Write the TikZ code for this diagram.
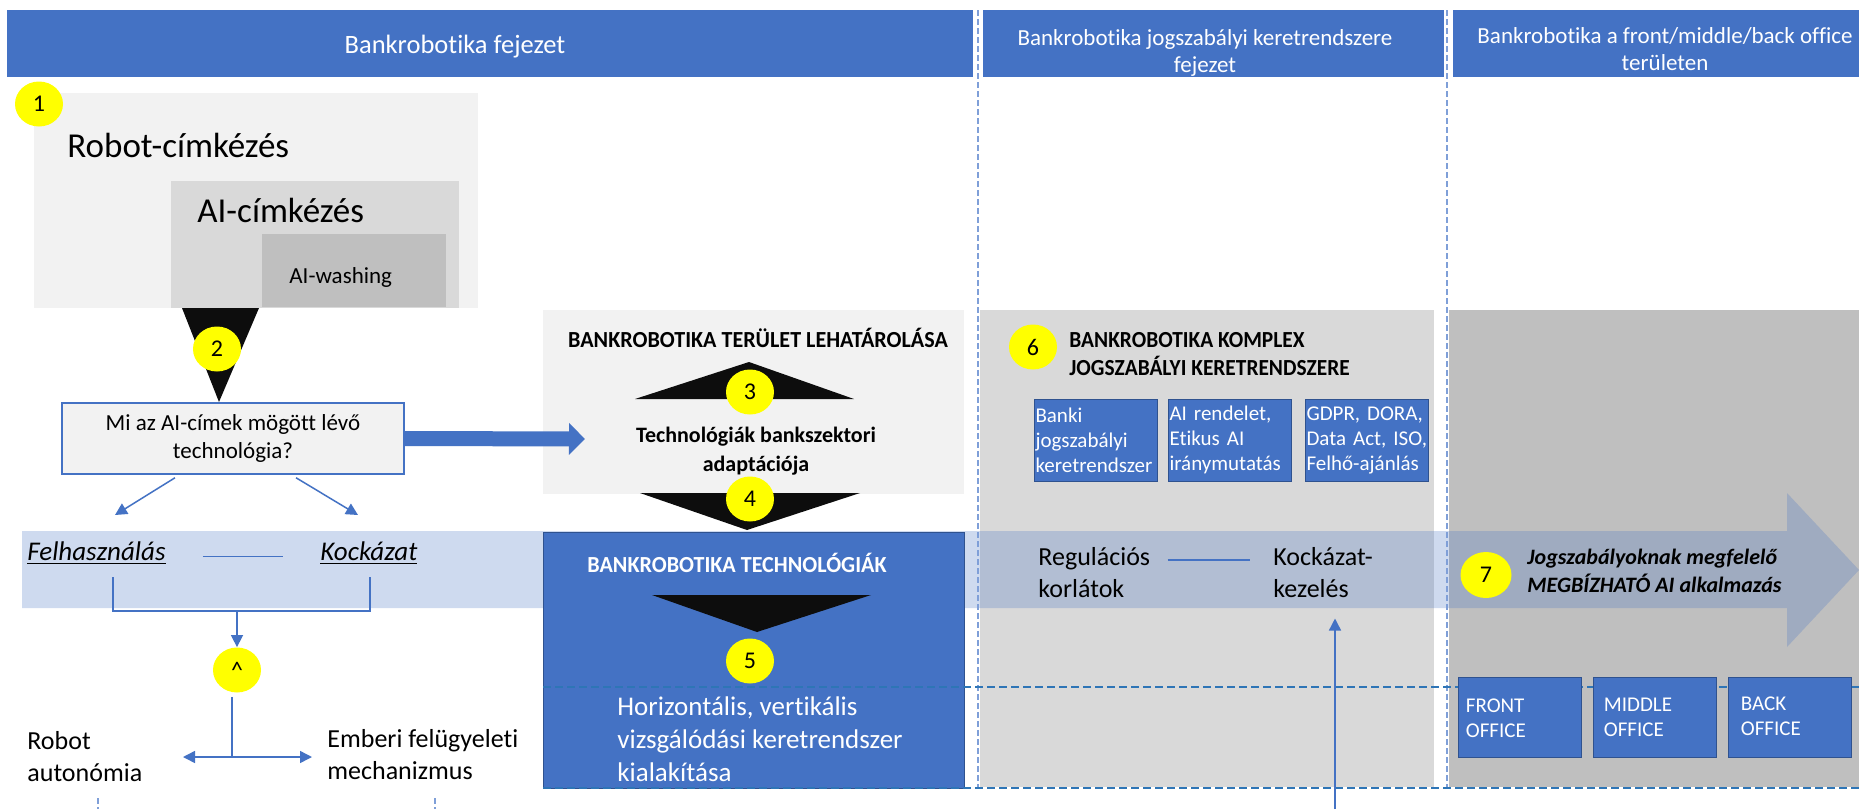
\documentclass[tikz,border=0pt]{standalone}
\usepackage{fontspec}
\setmainfont{Carlito}[Ligatures=NoCommon]
\newfontfamily\capsfont[FakeStretch=0.96, Ligatures=NoCommon]{Carlito}
\newfontfamily\capsfontn[FakeStretch=0.93, Ligatures=NoCommon]{Carlito}
\usepackage{tikz}
\usetikzlibrary{positioning, arrows.meta, shapes.geometric}

\definecolor{hblue}{HTML}{4472C4}
\definecolor{boxedge}{HTML}{2F528F}
\definecolor{lgray}{HTML}{F2F2F2}
\definecolor{mgray}{HTML}{D9D9D9}
\definecolor{dgray}{HTML}{BFBFBF}
\definecolor{tri}{HTML}{0D0D0D}
\definecolor{dotyellow}{HTML}{FFFF00}
\definecolor{dashblue}{HTML}{2E75B6}
\definecolor{vdashblue}{HTML}{7F9FD8}

\tikzset{
>={Triangle[length=6pt,width=6pt]}, % filled heads like the office arrows
hdrtext/.style={text=white, align=center, font=\fontsize{11.5}{13.75}\selectfont}, % chapter headers
numdot/.style={ellipse, fill=dotyellow, minimum width=24pt, minimum height=22.5pt, inner sep=0pt, font=\fontsize{12}{14}\selectfont}, % yellow step markers
bigtag/.style={inner sep=0pt, font=\fontsize{17.5}{20}\selectfont}, % labelling levels
qbox/.style={draw=hblue, fill=lgray, line width=0.75pt, minimum width=171pt, minimum height=35.5pt, align=center, font=\fontsize{11.5}{14}\selectfont},
thinlink/.style={draw=hblue, line width=0.75pt}, % thin connector
thinflow/.style={thinlink, ->},
bigflow/.style={draw=hblue, line width=7.5pt, -{Triangle[length=8pt,width=15.5pt]}},
band/.style={fill=hblue, fill opacity=0.26}, % the long see-through arrow
ulabel/.style={inner sep=0pt, font=\itshape\fontsize{13.5}{16}\selectfont},
plainlbl/.style={inner sep=0pt, align=left, font=\fontsize{13}{16}\selectfont},
captitle/.style={inner sep=0pt, align=left, font=\capsfont\bfseries\fontsize{11.5}{14}\selectfont},
midbold/.style={inner sep=0pt, align=center, font=\bfseries\fontsize{11}{14.5}\selectfont},
whitelbl/.style={inner sep=0pt, align=left, text=white, font=\fontsize{13.5}{16.5}\selectfont},
lawbox/.style={fill=hblue, draw=boxedge, line width=0.5pt, text=white, text width=60pt, inner xsep=0.75pt, minimum height=41pt, align=left, font=\fontsize{10.5}{12.5}\selectfont},
goaltxt/.style={inner sep=0pt, align=left, font=\bfseries\itshape\fontsize{11}{14}\selectfont},
officebox/.style={fill=hblue, draw=boxedge, line width=0.5pt, minimum width=61.5pt, minimum height=40pt},
officetxt/.style={anchor=north west, inner sep=0pt, align=left, text=white, font=\fontsize{10.5}{12.5}\selectfont},
hdash/.style={draw=dashblue, line width=0.6pt, dash pattern=on 4pt off 2pt},
vdash/.style={draw=vdashblue, line width=0.6pt, dash pattern=on 3pt off 1.5pt},
}

\begin{document}
\begin{tikzpicture}[x=0.5pt, y=-0.5pt]
        \useasboundingbox (0,0) rectangle (1859,809);
        \fill[white] (0,0) rectangle (1859,809);

        % chapter headers
        \fill[hblue] (7,10) rectangle (973,77);
        \fill[hblue] (983,10) rectangle (1444,77);
        \fill[hblue] (1453,10) rectangle (1859,77);
        \node[hdrtext, font=\fontsize{13.25}{15}\selectfont, anchor=base] (hdrA) at (455,53) {Bankrobotika fejezet};
        \node[hdrtext] (hdrB) at (1205,53) {Bankrobotika jogszabályi keretrendszere\\fejezet};
        \node[hdrtext] (hdrC) at (1665,49) {Bankrobotika a front/middle/back office\\területen};

        % labelling levels
        \fill[lgray] (34,93) rectangle (478,308);
        \fill[mgray] (171,181) rectangle (459,308);
        \fill[dgray] (262,234) rectangle (446,307);
        \node[bigtag, anchor=base west] (robotlbl) at (67,157) {Robot-címkézés};
        \node[bigtag, anchor=base west] (ailbl) at (197,222) {AI-címkézés};
        \node[inner sep=0pt, anchor=base west, font=\fontsize{11.5}{14}\selectfont] (washlbl) at (289,283) {AI-washing};
        \node[numdot] (n1) at (39,104) {1};

        % scope and adaptation
        \fill[lgray] (543,310) rectangle (964,494);
        \node[captitle, anchor=base] (scopettl) at (758,347) {BANKROBOTIKA TERÜLET LEHATÁROLÁSA};

        % regulation and front/middle/back columns
        \fill[mgray] (980,310) rectangle (1434,787);
        \fill[dgray] (1449,310) rectangle (1859,787);

        % long arrow across the columns
        \fill[band] (22,531) -- (1787,531) -- (1787,493) -- (1859,570) -- (1787,647) -- (1787,608) -- (22,608) -- cycle;

        % technologies
        \filldraw[fill=hblue, draw=boxedge, line width=0.5pt] (543,532) rectangle (964,788);
        \node[captitle, text=white, anchor=base] (techttl) at (737,572) {BANKROBOTIKA TECHNOLÓGIÁK};

        \draw[vdash] (978,10) -- (978,788);
        \draw[vdash] (1447,10) -- (1447,788);
        \draw[hdash] (543,687) -- (1859,687);
        \draw[hdash] (543,788) -- (1859,788);

        \fill[tri] (182,308) -- (259,308) -- (219,402) -- cycle;
        \fill[tri] (635,399) -- (749,362) -- (854,399) -- cycle;
        \fill[tri] (640,493) -- (860,493) -- (747,530) -- cycle;
        \fill[tri] (652,595) -- (871,595) -- (757,632) -- cycle;

        \node[numdot] (n2) at (217,349) {2};
        \node[numdot] (n3) at (750,392) {3};
        \node[midbold] (adapttxt) at (756,451.5) {Technológiák bankszektori\\adaptációja};
        \node[numdot] (n4) at (750,499) {4};
        \node[numdot] (n5) at (750,661) {5};
        \node[whitelbl, anchor=west] (framework) at (617,739) {Horizontális, vertikális\\vizsgálódási keretrendszer\\kialakítása};

        % question and its branches
        \node[qbox] (question) at (233,438.5) {Mi az AI-címek mögött lévő\\technológia?};
        \coordinate (adapt) at (585,439);
        \draw[bigflow] (question.east) -- (adapt);
        \coordinate (usetip) at (115,515);
        \coordinate (risktip) at (358,515);
        \draw[thinflow] ([shift={(-58,3)}]question.south) -- (usetip);
        \draw[thinflow] ([shift={(63,3)}]question.south) -- (risktip);

        \node[ulabel, anchor=base west] (usage) at (27,560) {\underline{Felhasználás}};
        \node[ulabel, anchor=base west] (risk) at (320,560) {\underline{Kockázat}};
        \draw[thinlink, shorten <=18.5pt, shorten >=18.5pt] ([yshift=-2pt]usage.east) -- ([yshift=-2pt]risk.west);

        \coordinate (usefoot) at (113,577);
        \coordinate (riskfoot) at (370,577);
        \coordinate (merge) at (237,611);
        \draw[thinlink] (usefoot) |- (merge) -| (riskfoot);
        \node[numdot] (andgate) at (237,670) {\textasciicircum};
        \draw[thinflow] (merge) -- (andgate.north);

        \coordinate (split) at (232,757);
        \coordinate (autotip) at (183,757);
        \coordinate (humantip) at (312,757);
        \draw[thinlink] ([yshift=-2pt]andgate.south -| split) -- (split);
        \draw[thinlink, <->] (autotip) -- (humantip);
        \node[plainlbl, anchor=west] (autonomy) at (27,756.5) {Robot\\autonómia};
        \node[plainlbl, anchor=west] (oversight) at (327,755) {Emberi felügyeleti\\mechanizmus};
        \draw[vdash] (98,798) -- (98,809);
        \draw[vdash] (435,798) -- (435,809);

        % legal framework
        \node[numdot] (n6) at (1033,347) {6};
        \node[captitle, font=\capsfontn\bfseries\fontsize{11.5}{14}\selectfont, anchor=west] (lawttl) at (1069,354.5) {BANKROBOTIKA KOMPLEX\\JOGSZABÁLYI KERETRENDSZERE};
        \node[lawbox] (banklaw) at (1095.5,440) {Banki\\jogszabályi\\\mbox{keretrendszer}};
        \node[lawbox, right=5pt of banklaw] (aiact) {AI rendelet,\\Etikus AI\\\mbox{iránymutatás}};
        \node[lawbox, right=6.5pt of aiact] (gdpr) {\mbox{GDPR, DORA,}\\\mbox{Data Act, ISO,}\\\mbox{Felhő-ajánlás}};

        \node[plainlbl, anchor=west] (limits) at (1038,573) {Regulációs\\korlátok};
        \node[plainlbl, anchor=west] (riskmgmt) at (1273,573) {Kockázat-\\kezelés};
        \draw[thinlink, shorten <=8.5pt, shorten >=11.5pt] ([yshift=6.5pt]limits.east) -- ([yshift=6.5pt]riskmgmt.west);
        \coordinate (riskroot) at (1335,809);
        \draw[thinflow, shorten >=10pt] (riskroot) -- (riskroot |- riskmgmt.south);

        % trustworthy AI and the offices
        \node[numdot, minimum width=25.5pt, minimum height=23pt] (n7) at (1486,575) {7};
        \node[goaltxt, anchor=west] (goal) at (1527,571) {Jogszabályoknak megfelelő\\MEGBÍZHATÓ AI alkalmazás};
        \node[officebox] (front) at (1519.5,717) {};
        \node[officebox, right=5.5pt of front] (middle) {};
        \node[officebox, right=5.5pt of middle] (back) {};
        \node[officetxt] (fronttxt) at ([shift={(8,21.5)}]front.north west) {FRONT\\OFFICE};
        \node[officetxt] (middletxt) at ([shift={(11,21)}]middle.north west) {MIDDLE\\OFFICE};
        \node[officetxt] (backtxt) at ([shift={(13,19.5)}]back.north west) {BACK\\OFFICE};
\end{tikzpicture}
\end{document}
